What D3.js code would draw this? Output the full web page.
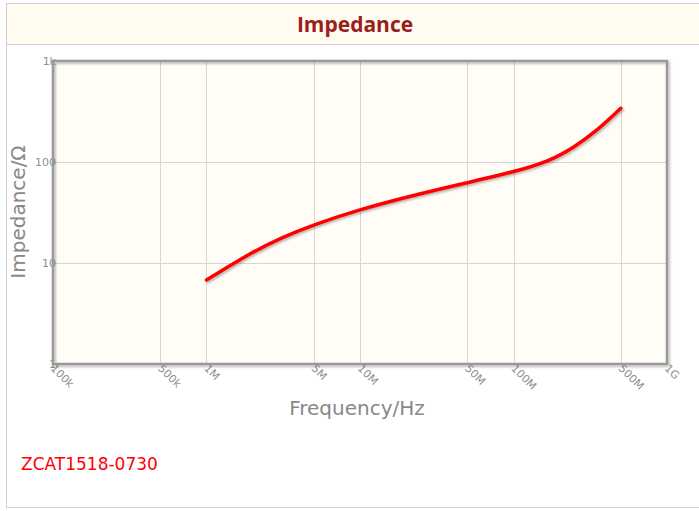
<!DOCTYPE html>
<html>
<head>
<meta charset="utf-8">
<script src="https://cdn.jsdelivr.net/npm/d3@7"></script>
<style>
  body { margin: 0; background: #fff; }
  text { font-family: "DejaVu Sans", sans-serif; }
</style>
</head>
<body>
<script>
const width = 699;
const height = 511;

// impedance curve (Hz, ohm)
const freqs = [1e6, 2e6, 3e6, 5e6, 1e7, 2e7, 5e7, 1e8, 1.7e8, 2.5e8, 3.5e8, 5e8];
const impedance = [6.8, 12.9, 17.5, 24.0, 33.9, 45.0, 62.5, 79.6, 101, 141, 204, 340];
const xTicks = [1e5, 5e5, 1e6, 5e6, 1e7, 5e7, 1e8, 5e8, 1e9];
const xTickLabels = ["100k", "500k", "1M", "5M", "10M", "50M", "100M", "500M", "1G"];
const yTicks = [1, 10, 100, 1000];
const yTickLabels = ["1", "10", "100", "1k"];
const seriesName = "ZCAT1518-0730";

const plot = { left: 53, right: 667, top: 61, bottom: 364 };

let svg = d3.select("body")
    .append("svg")
    .attr("width", width)
    .attr("height", height)
    .attr("xmlns", "http://www.w3.org/2000/svg");

let defs = svg.append("defs");
let shadow = defs.append("filter").attr("id", "shadow")
    .attr("x", "-10%").attr("y", "-10%").attr("width", "130%").attr("height", "130%");
shadow.append("feDropShadow")
    .attr("dx", 1.5).attr("dy", 1.5).attr("stdDeviation", 1)
    .attr("flood-color", "#000").attr("flood-opacity", 0.3);

// outer panel
svg.append("rect")
    .attr("x", 6.5).attr("y", 3.5)
    .attr("width", 700).attr("height", 504)
    .style("fill", "#fff").style("stroke", "#d0d0d0");

// title band
svg.append("rect")
    .attr("x", 6.5).attr("y", 3.5)
    .attr("width", 700).attr("height", 41)
    .style("fill", "#fffbee").style("stroke", "#d0d0d0");

svg.append("text")
    .attr("x", 355).attr("y", 32)
    .attr("text-anchor", "middle")
    .style("font-family", "'Open Sans', sans-serif")
    .style("font-weight", "bold")
    .style("font-size", "21px")
    .style("fill", "#9b1d1d")
    .text("Impedance");

let x = d3.scaleLog().domain([1e5, 1e9]).range([plot.left, plot.right]);
let y = d3.scaleLog().domain([1, 1000]).range([plot.bottom, plot.top]);

// plot background
svg.append("rect")
    .attr("x", plot.left).attr("y", plot.top)
    .attr("width", plot.right - plot.left).attr("height", plot.bottom - plot.top)
    .style("fill", "#fffdf5");

// grid
svg.append("g")
    .selectAll("line")
    .data(xTicks.slice(1, -1))
    .join("line")
    .attr("x1", d => Math.round(x(d)) + 0.5).attr("x2", d => Math.round(x(d)) + 0.5)
    .attr("y1", plot.top).attr("y2", plot.bottom)
    .style("stroke", "#d6d6d6");

svg.append("g")
    .selectAll("line")
    .data(yTicks.slice(1, -1))
    .join("line")
    .attr("y1", d => Math.round(y(d)) + 0.5).attr("y2", d => Math.round(y(d)) + 0.5)
    .attr("x1", plot.left).attr("x2", plot.right)
    .style("stroke", "#d6d6d6");

// tick labels
svg.append("g")
    .selectAll("text")
    .data(yTicks)
    .join("text")
    .attr("x", plot.left + 3)
    .attr("y", d => y(d) + 4)
    .attr("text-anchor", "end")
    .style("font-size", "11px")
    .style("fill", "#8f8f8f")
    .text((d, i) => yTickLabels[i]);

svg.append("g")
    .selectAll("text")
    .data(xTicks)
    .join("text")
    .attr("transform", d => `translate(${x(d) - 3},${plot.bottom + 5}) rotate(45)`)
    .style("font-size", "11px")
    .style("fill", "#8f8f8f")
    .text((d, i) => xTickLabels[i]);

// frame
svg.append("rect")
    .attr("x", plot.left).attr("y", plot.top)
    .attr("width", plot.right - plot.left).attr("height", plot.bottom - plot.top)
    .style("fill", "none")
    .style("stroke", "#999")
    .style("stroke-width", 2.5)
    .attr("filter", "url(#shadow)");

// curve
let line = d3.line()
    .x((d, i) => x(freqs[i]))
    .y(d => y(d))
    .curve(d3.curveBasis);

svg.append("path")
    .datum(impedance)
    .attr("d", line)
    .style("fill", "none")
    .style("stroke", "#ff0000")
    .style("stroke-width", 3.5)
    .style("stroke-linecap", "round")
    .attr("filter", "url(#shadow)");

// axis titles
svg.append("text")
    .attr("x", 357).attr("y", 415)
    .attr("text-anchor", "middle")
    .style("font-size", "20px")
    .style("fill", "#888")
    .text("Frequency/Hz");

svg.append("text")
    .attr("transform", "translate(25,212) rotate(-90)")
    .attr("text-anchor", "middle")
    .style("font-size", "20px")
    .style("fill", "#888")
    .text("Impedance/Ω");

svg.append("text")
    .attr("x", 21).attr("y", 470)
    .style("font-size", "17px")
    .style("fill", "#ff0000")
    .text(seriesName);
</script>
</body>
</html>
